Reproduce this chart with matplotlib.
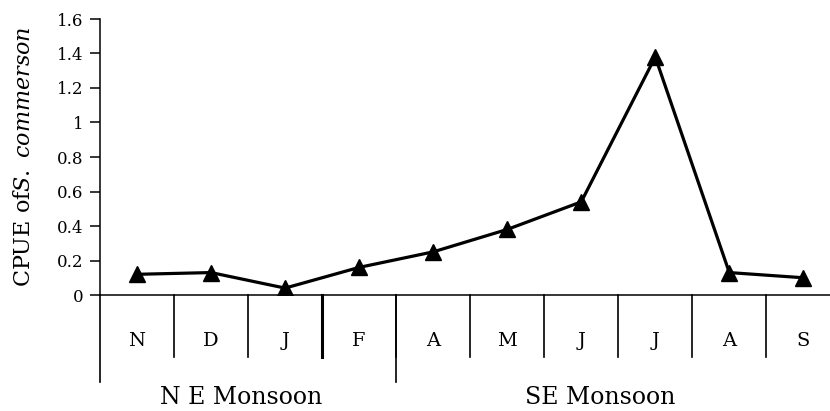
import matplotlib.pyplot as plt
import matplotlib as mpl

# valori CPUE po mjesecima
mjeseci = ['N', 'D', 'J', 'F', 'A', 'M', 'J', 'J', 'A', 'S']
cpue = [0.12, 0.13, 0.04, 0.16, 0.25, 0.38, 0.54, 1.38, 0.13, 0.10]
monsuni = ['N E Monsoon', 'SE Monsoon']
y_ticks = [0, 0.2, 0.4, 0.6, 0.8, 1, 1.2, 1.4, 1.6]
y_tick_labels = ['0', '0.2', '0.4', '0.6', '0.8', '1', '1.2', '1.4', '1.6']

mpl.rcParams['font.family'] = ['DejaVu Serif']
mpl.rcParams['mathtext.fontset'] = 'custom'
mpl.rcParams['mathtext.rm'] = 'DejaVu Serif'
mpl.rcParams['mathtext.it'] = 'DejaVu Serif:italic'

fig = plt.figure(figsize=(8.3, 4.11), dpi=100)
ax = fig.add_axes([100 / 830, 116 / 411, 730 / 830, 276 / 411])

x = list(range(len(mjeseci)))
ax.plot(x, cpue, color='black', lw=2.3, marker='^', ms=12, mfc='black', mec='black', zorder=3)

ax.set_xlim(-0.5, 9.36)
ax.set_ylim(0, 1.6)
ax.set_yticks(y_ticks)
ax.set_yticklabels(y_tick_labels, fontsize=12)
ax.tick_params(axis='y', direction='out', length=7, width=1.1, pad=5)
ax.set_xticks([])

for s in ['top', 'right']:
    ax.spines[s].set_visible(False)
ax.spines['left'].set_linewidth(1.1)
ax.spines['bottom'].set_linewidth(1.1)

ax.set_ylabel(r'CPUE of$\it{S.\ commerson}$', fontsize=16, labelpad=16)

trans = ax.get_xaxis_transform()
# separatori mjeseci
for i in range(1, len(mjeseci)):
    lw = 2.2 if i == 3 else 1.2
    ax.plot([i - 0.5, i - 0.5], [0, -0.225], transform=trans, color='black', lw=lw, clip_on=False)
# duge crte za monsune
for xp in [-0.5, 3.5]:
    ax.plot([xp, xp], [0, -0.315], transform=trans, color='black', lw=1.2, clip_on=False)

for i, m in enumerate(mjeseci):
    ax.text(i, -0.165, m, transform=trans, ha='center', va='center', fontsize=14)

ax.text(1.4, -0.37, monsuni[0], transform=trans, ha='center', va='center', fontsize=17)
ax.text(6.25, -0.37, monsuni[1], transform=trans, ha='center', va='center', fontsize=17)

fig.savefig('out.png', dpi=100)
